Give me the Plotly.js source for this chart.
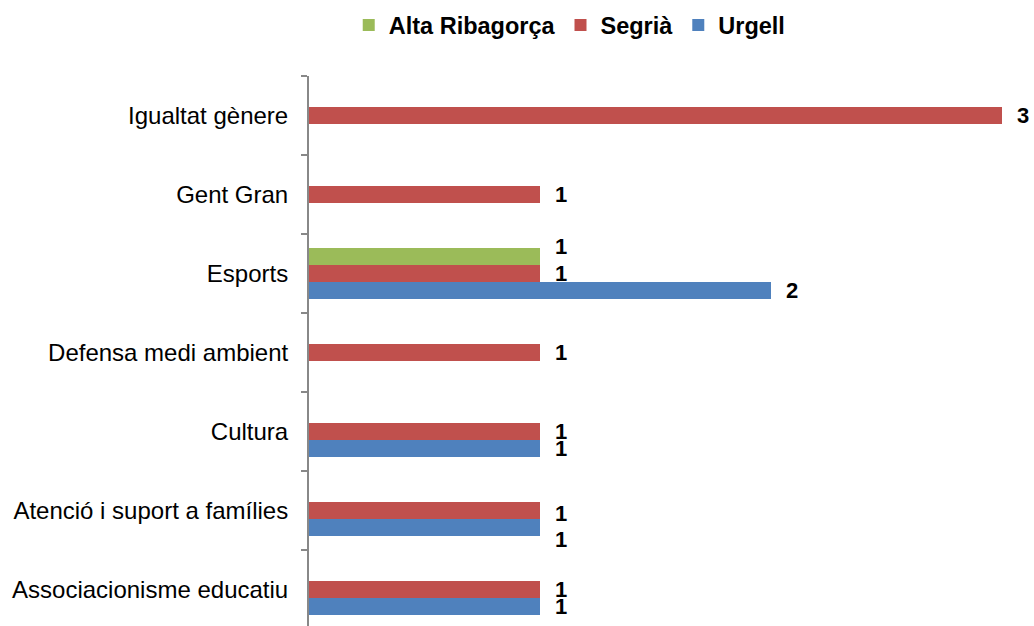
<!DOCTYPE html>
<html>
<head>
<meta charset="utf-8">
<script src="https://cdn.plot.ly/plotly-3.0.1.min.js"></script>
<style>
  html, body { margin: 0; padding: 0; background: #fff; }
  #chart { width: 1034px; height: 626px; }
</style>
</head>
<body>
<div id="chart"></div>
<script>
var categories = ['Associacionisme educatiu', 'Atenció i suport a famílies', 'Cultura',
    'Defensa medi ambient', 'Esports', 'Gent Gran', 'Igualtat gènere'];

var urgell = [1, 1, 1, null, 2, null, null];
var segria = [1, 1, 1, 1, 1, 1, 3];
var altaRibagorca = [null, null, null, null, 1, null, null];

// bottom to top inside each group
var series = [
    {name: 'Urgell', values: urgell, color: '#4F81BD', offset: -0.215},
    {name: 'Segrià', values: segria, color: '#C0504D', offset: 0},
    {name: 'Alta Ribagorça', values: altaRibagorca, color: '#9BBB59', offset: 0.215}
];

// small vertical nudges (px) copied from the original label placement
var labelNudge = {'Alta Ribagorça|4': 10, 'Urgell|1': -12, 'Segrià|1': -3};

var data = series.map(function (s) {
    return {
        type: 'bar',
        orientation: 'h',
        name: s.name,
        y: categories,
        x: s.values,
        marker: {color: s.color},
        hoverinfo: 'x+name'
    };
});

// data labels
var annotations = [];
series.forEach(function (s) {
    s.values.forEach(function (v, i) {
        if (v == null) return;
        annotations.push({
            x: v, y: i + s.offset, xref: 'x', yref: 'y',
            text: String(v), showarrow: false,
            xanchor: 'left', xshift: 13,
            yshift: labelNudge[s.name + '|' + i] || 0,
            font: {family: 'Liberation Sans, Arial', size: 22, color: '#000', weight: 'bold'}
        });
    });
});

var layout = {
    width: 1034,
    height: 626,
    margin: {l: 309, r: 32, t: 76, b: 0, pad: 0},
    paper_bgcolor: '#fff',
    plot_bgcolor: '#fff',
    barmode: 'group',
    bargap: 0.355,
    bargroupgap: 0,
    font: {family: 'Liberation Sans, Arial', size: 24, color: '#000'},
    showlegend: true,
    legend: {
        orientation: 'h',
        traceorder: 'reversed',
        x: 0.551, xref: 'container', xanchor: 'center',
        y: 0.995, yref: 'container', yanchor: 'top',
        font: {size: 23.5, weight: 'bold', color: '#000'},
        itemwidth: 30
    },
    xaxis: {
        range: [0, 3],
        showgrid: false,
        zeroline: false,
        showline: false,
        showticklabels: false,
        ticks: ''
    },
    yaxis: {
        type: 'category',
        range: [-0.462, 6.5],
        showline: true,
        linecolor: '#888',
        linewidth: 2,
        ticks: 'outside',
        tickson: 'boundaries',
        ticklen: 6,
        tickcolor: '#888',
        tickwidth: 2,
        ticklabelstandoff: 14,
        showgrid: false,
        zeroline: false
    },
    annotations: annotations
};

var config = {responsive: false, displayModeBar: false};

Plotly.newPlot('chart', data, layout, config);
</script>
</body>
</html>
